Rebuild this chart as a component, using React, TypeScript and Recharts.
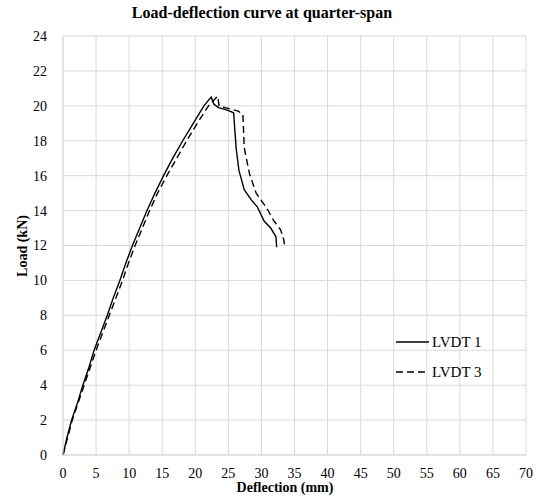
import { LineChart, Line, XAxis, YAxis, CartesianGrid, Legend } from 'recharts';

// deflection (mm) / load (kN)
const lvdt1Deflection = [
  0, 0.6, 1.3, 2.2, 3.0, 3.9, 4.7, 5.7, 6.7, 7.6, 8.6, 9.5, 10.5, 11.6, 12.7, 13.9, 15.2, 16.6,
  18.1, 19.7, 21.3, 22.4, 22.8, 23.5, 24.5, 25.2, 25.8, 26.0, 26.2, 26.6, 27.4, 28.5, 29.4, 30.4,
  31.4, 32.2, 32.3,
];
const lvdt1Load = [
  0, 1, 2, 3, 4, 5, 6, 7, 8, 9, 10, 11, 12, 13, 14, 15, 16, 17, 18, 19, 20, 20.5, 20.1, 19.9, 19.8,
  19.7, 19.6, 18.5, 17.5, 16.3, 15.2, 14.6, 14.2, 13.4, 13.0, 12.5, 11.9,
];

const lvdt3Deflection = [
  0, 0.7, 1.4, 2.3, 3.2, 4.1, 5.0, 6.0, 7.0, 8.0, 9.0, 9.9, 10.9, 12.0, 13.1, 14.3, 15.7, 17.2,
  18.7, 20.3, 22.0, 23.0, 23.4, 23.6, 24.5, 25.5, 26.5, 27.2, 27.4, 28.2, 29.2, 30.7, 31.9, 32.9,
  33.4, 33.5,
];
const lvdt3Load = [
  0, 1, 2, 3, 4, 5, 6, 7, 8, 9, 10, 11, 12, 13, 14, 15, 16, 17, 18, 19, 20, 20.4, 20.55, 20.0,
  19.9, 19.8, 19.7, 19.5, 17.6, 16.1, 15.0, 14.2, 13.4, 12.9, 12.3, 11.9,
];

const xTicks = [0, 5, 10, 15, 20, 25, 30, 35, 40, 45, 50, 55, 60, 65, 70];
const yTicks = [0, 2, 4, 6, 8, 10, 12, 14, 16, 18, 20, 22, 24];

const lvdt1 = lvdt1Deflection.map((d, i) => ({ d, load: lvdt1Load[i] }));
const lvdt3 = lvdt3Deflection.map((d, i) => ({ d, load: lvdt3Load[i] }));

const FONT = "'Liberation Serif', 'Times New Roman', serif";
const GRID = '#d9d9d9';

function LegendBox() {
  const items = [
    { name: 'LVDT 1', dash: undefined },
    { name: 'LVDT 3', dash: '7 4' },
  ];
  return (
    <div style={{ fontFamily: FONT, fontSize: 15, color: '#000' }}>
      {items.map((it) => (
        <div key={it.name} style={{ display: 'flex', alignItems: 'center', height: 30 }}>
          <svg width={35} height={10}>
            <line x1={0} y1={5} x2={33} y2={5} stroke="#000" strokeWidth={1.4} strokeDasharray={it.dash} />
          </svg>
          <span style={{ marginLeft: 1 }}>{it.name}</span>
        </div>
      ))}
    </div>
  );
}

export default function App() {
  return (
    <div style={{ position: 'absolute', left: 0, top: 0, width: 539, height: 497, background: '#fff' }}>
      <div
        style={{
          position: 'absolute',
          left: 0,
          top: 4,
          width: 524,
          textAlign: 'center',
          fontFamily: FONT,
          fontWeight: 'bold',
          fontSize: 16,
        }}
      >
        Load-deflection curve at quarter-span
      </div>
      <LineChart width={539} height={497} margin={{ top: 36, right: 13, bottom: 0, left: 0 }}>
        <CartesianGrid stroke={GRID} strokeWidth={1} />
        <XAxis
          type="number"
          dataKey="d"
          domain={[0, 70]}
          ticks={xTicks}
          height={42}
          tickLine={false}
          axisLine={{ stroke: GRID }}
          tickMargin={7}
          tick={{ fontFamily: FONT, fontSize: 14, fill: '#000' }}
          label={{
            content: () => (
              <text x={285} y={492} textAnchor="middle" fontFamily={FONT} fontWeight="bold" fontSize={14}>
                Deflection (mm)
              </text>
            ),
          }}
        />
        <YAxis
          type="number"
          domain={[0, 24]}
          ticks={yTicks}
          width={63}
          tickLine={false}
          axisLine={{ stroke: GRID }}
          tickMargin={10}
          tick={{ fontFamily: FONT, fontSize: 14, fill: '#000' }}
          label={{
            content: () => (
              <text
                x={22}
                y={246}
                textAnchor="middle"
                dominantBaseline="central"
                transform="rotate(-90 22 246)"
                fontFamily={FONT}
                fontWeight="bold"
                fontSize={14}
              >
                Load (kN)
              </text>
            ),
          }}
        />
        <Legend
          layout="vertical"
          align="center"
          verticalAlign="middle"
          wrapperStyle={{ position: 'absolute', left: 396, top: 327, width: 'auto' }}
          content={() => <LegendBox />}
        />
        <Line
          data={lvdt1}
          dataKey="load"
          name="LVDT 1"
          stroke="#000"
          strokeWidth={1.4}
          dot={false}
          isAnimationActive={false}
        />
        <Line
          data={lvdt3}
          dataKey="load"
          name="LVDT 3"
          stroke="#000"
          strokeWidth={1.4}
          strokeDasharray="7 4"
          dot={false}
          isAnimationActive={false}
        />
      </LineChart>
    </div>
  );
}
